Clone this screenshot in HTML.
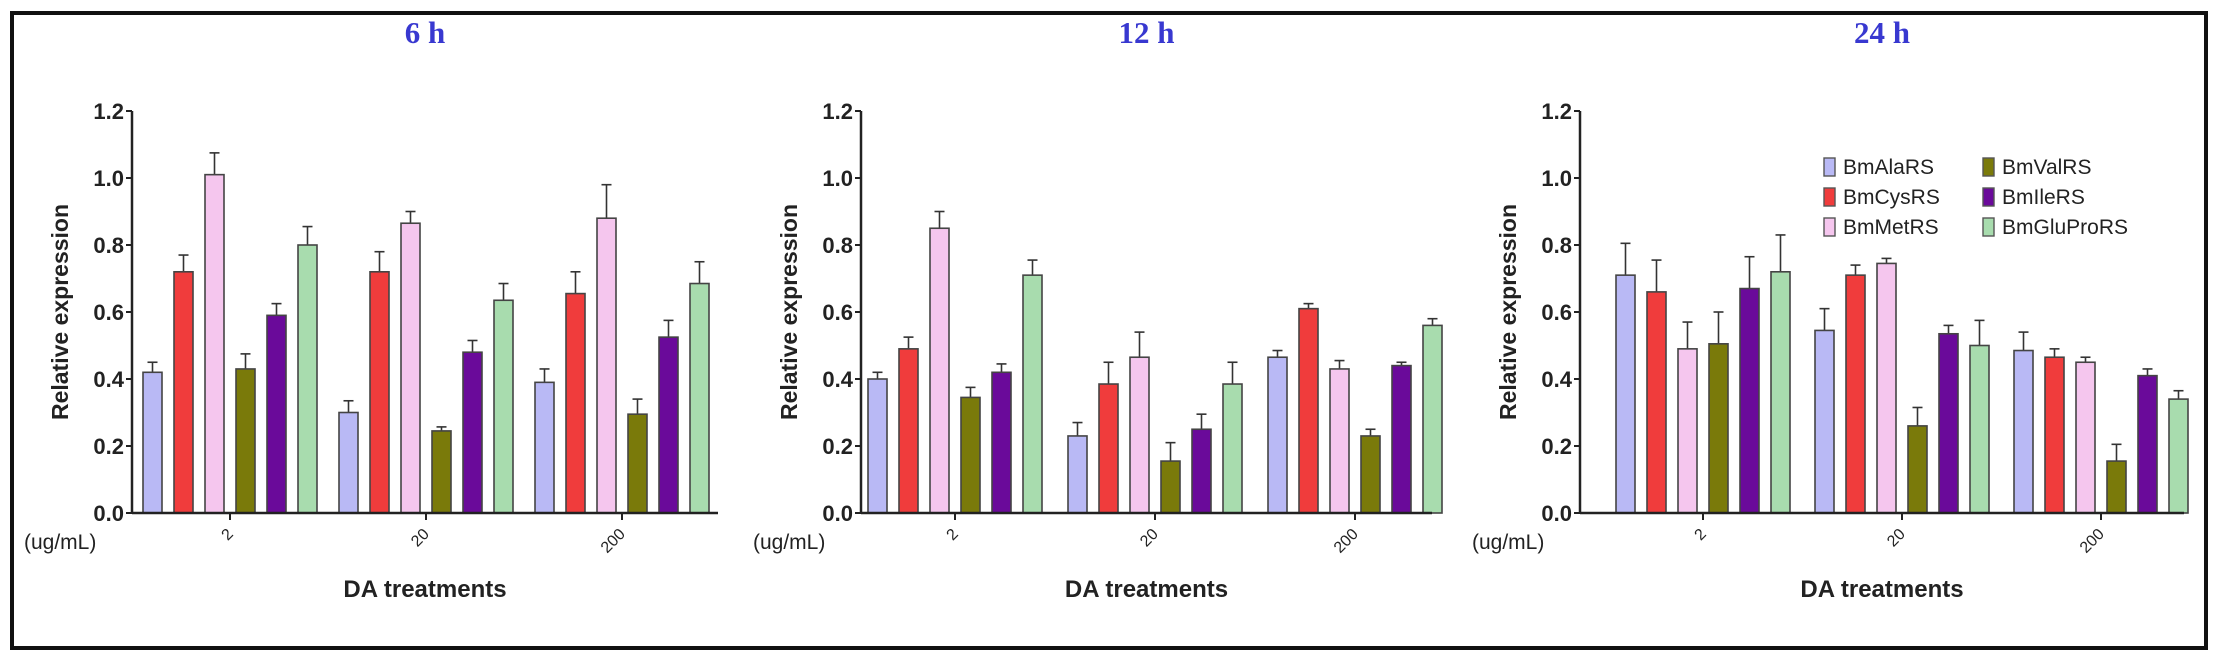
<!DOCTYPE html>
<html><head><meta charset="utf-8"><style>
html,body{margin:0;padding:0;background:#fff;}
svg{display:block;font-family:"Liberation Sans",sans-serif;}
</style></head><body>
<svg id="chart" width="2223" height="663" viewBox="0 0 2223 663">
<rect x="12" y="13" width="2194" height="635" fill="none" stroke="#111" stroke-width="4"/>
</svg>
<script>
const categories = ["2","20","200"];
const seriesNames = ["BmAlaRS","BmCysRS","BmMetRS","BmValRS","BmIleRS","BmGluProRS"];
const panelTitles = ["6 h","12 h","24 h"];
const yTicks = [0,0.2,0.4,0.6,0.8,1.0,1.2];
const yTickLabels = ["0.0","0.2","0.4","0.6","0.8","1.0","1.2"];
// values[group][series]
const values6h = [[0.42,0.72,1.01,0.43,0.59,0.80],[0.30,0.72,0.865,0.245,0.48,0.635],[0.39,0.655,0.88,0.295,0.525,0.685]];
const errors6h = [[0.03,0.05,0.065,0.045,0.035,0.055],[0.035,0.06,0.035,0.012,0.035,0.05],[0.04,0.065,0.10,0.045,0.05,0.065]];
const values12h = [[0.40,0.49,0.85,0.345,0.42,0.71],[0.23,0.385,0.465,0.155,0.25,0.385],[0.465,0.61,0.43,0.23,0.44,0.56]];
const errors12h = [[0.02,0.035,0.05,0.03,0.025,0.045],[0.04,0.065,0.075,0.055,0.045,0.065],[0.02,0.015,0.025,0.02,0.01,0.02]];
const values24h = [[0.71,0.66,0.49,0.505,0.67,0.72],[0.545,0.71,0.745,0.26,0.535,0.50],[0.485,0.465,0.45,0.155,0.41,0.34]];
const errors24h = [[0.095,0.095,0.08,0.095,0.095,0.11],[0.065,0.03,0.015,0.055,0.025,0.075],[0.055,0.025,0.015,0.05,0.02,0.025]];

const colors = ["#b9b9f5","#f03c3c","#f5c6ee","#7a7a0a","#6a0a9a","#a8dcae"];
const NS="http://www.w3.org/2000/svg";
const svg=document.getElementById('chart');
function mk(tag,attrs,parent){const e=document.createElementNS(NS,tag);for(const k in attrs)e.setAttribute(k,attrs[k]);(parent||svg).appendChild(e);return e;}
const panels=[
 {x0:132,x1:718,c0:230,gap:196,vals:values6h,errs:errors6h},
 {x0:861,x1:1432,c0:955,gap:200,vals:values12h,errs:errors12h},
 {x0:1580,x1:2184,c0:1703,gap:199,vals:values24h,errs:errors24h}
];
const yTop=111,yBot=513,yMax=1.2;
function yS(v){return yBot-(v/yMax)*(yBot-yTop);}
const bw=19,step=31;
panels.forEach((p,pi)=>{
 const g=mk('g',{});
 
 
 const t=mk('text',{x:(p.x0+p.x1)/2,y:43,'text-anchor':'middle','font-family':'"Liberation Serif",serif','font-weight':'bold','font-size':31,fill:'#3838d0'},g);
 t.textContent=panelTitles[pi];
 
 
 p.vals.forEach((grp,gi)=>{
  const cx=p.c0+gi*p.gap;
  grp.forEach((v,si)=>{
   const bx=cx+(si-2.5)*step-bw/2;
   const e=p.errs[gi][si];
   const top=yS(v+e);
   const el=mk('line',{x1:bx+bw/2,x2:bx+bw/2,y1:yS(v),y2:top,stroke:'#333','stroke-width':1.6},g);
   
   
   const cap=mk('line',{x1:bx+bw/2-5,x2:bx+bw/2+5,y1:top,y2:top,stroke:'#333','stroke-width':1.6},g);
   
   
   const r=mk('rect',{x:bx,y:yS(v),width:bw,height:yBot-yS(v),fill:colors[si],stroke:'#444','stroke-width':1.6},g);
   
   
  });
  const tk=mk('line',{x1:cx,x2:cx,y1:yBot,y2:yBot+7,stroke:'#222','stroke-width':2},g);
  
  
  const tl=mk('text',{x:cx+4,y:yBot+22,'text-anchor':'end','font-size':16,fill:'#222',transform:'rotate(-45 '+(cx+4)+' '+(yBot+22)+')'},g);
  tl.textContent=categories[gi];
  
  
 });
 const ya=mk('line',{x1:p.x0,x2:p.x0,y1:yTop,y2:yBot,stroke:'#222','stroke-width':2.5},g);
 
 
 const xa=mk('line',{x1:p.x0,x2:p.x1,y1:yBot,y2:yBot,stroke:'#222','stroke-width':2.5},g);
 
 
 yTicks.forEach((v,i)=>{
  const l=mk('line',{x1:p.x0-6,x2:p.x0,y1:yS(v),y2:yS(v),stroke:'#222','stroke-width':2},g);
  
  
  const tx=mk('text',{x:p.x0-8,y:yS(v)+8,'text-anchor':'end','font-size':22,'font-weight':'bold',fill:'#222'},g);
  tx.textContent=yTickLabels[i];
  
  
 });
 const yl=mk('text',{x:0,y:0,'text-anchor':'middle','font-size':23,'font-weight':'bold',fill:'#222',transform:'translate('+(p.x0-64)+' 312) rotate(-90)'},g);
 yl.textContent='Relative expression';
 
 
 const ul=mk('text',{x:p.x0-108,y:549,'font-size':21,fill:'#222'},g);
 ul.textContent='(ug/mL)';
 
 
 const xl=mk('text',{x:(p.x0+p.x1)/2,y:597,'text-anchor':'middle','font-size':24,'font-weight':'bold',fill:'#222'},g);
 xl.textContent='DA treatments';
 
 
});
const lg=mk('g',{});


seriesNames.forEach((n,i)=>{
 const col=Math.floor(i/3),row=i%3;
 const bx=col?1983:1824, by=158+row*30;
 const r=mk('rect',{x:bx,y:by,width:11,height:18,fill:colors[i],stroke:'#555','stroke-width':1.4},lg);
 
 
 const t=mk('text',{x:bx+19,y:by+16,'font-size':21,fill:'#222'},lg);
 t.textContent=n;
 
 
});
</script>
</body></html>
